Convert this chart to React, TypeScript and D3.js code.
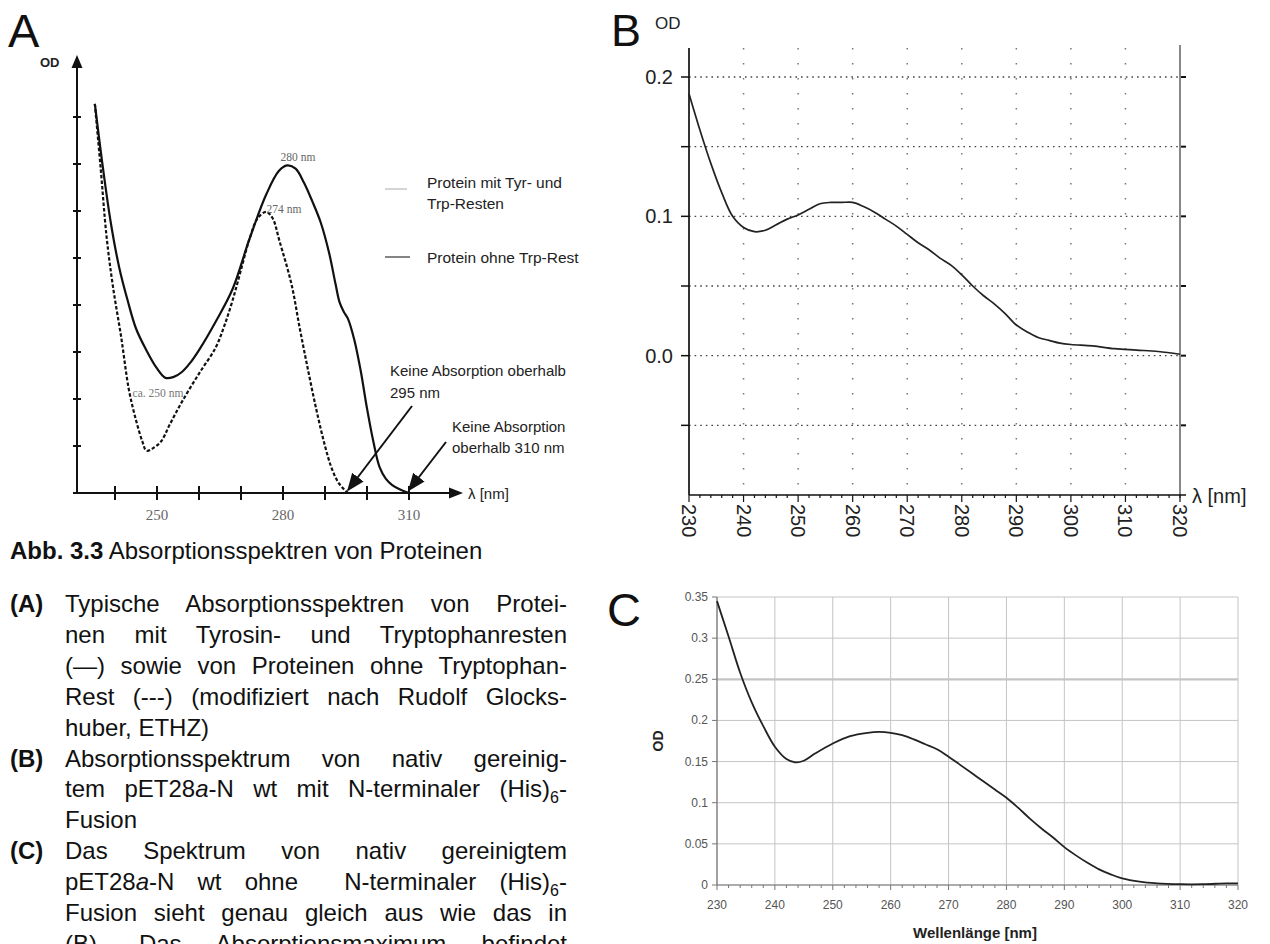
import React, { useEffect, useRef } from "react";
import * as d3 from "d3";

// ---------- Panel A (schematic spectra) ----------
const aSolidNm = [235.2, 237, 239, 241, 243, 245, 247.4, 250, 252, 254, 256, 258, 260, 264, 268, 272, 276, 279, 281, 283, 285, 287, 289, 291, 292.5, 293.5, 294.5, 295.5, 297, 298.5, 300, 301.5, 303, 304.5, 306, 308, 310];
const aSolidOd = [8.28, 7.0, 5.75, 4.8, 4.1, 3.5, 3.05, 2.65, 2.45, 2.47, 2.58, 2.78, 3.04, 3.65, 4.34, 5.4, 6.35, 6.85, 6.97, 6.9, 6.6, 6.2, 5.75, 5.1, 4.45, 4.05, 3.85, 3.7, 3.25, 2.6, 1.8, 1.1, 0.55, 0.3, 0.17, 0.07, 0];
const aDashNm = [235.2, 236.5, 238, 239.5, 241.5, 243.3, 245, 246.5, 247.5, 249, 251, 253, 256, 260, 264, 266, 268, 270, 272, 274, 276, 277.5, 279.2, 282, 284, 286, 288, 290, 291.5, 293, 294.5, 295.5];
const aDashOd = [8.28, 7.0, 5.45, 4.4, 3.3, 2.2, 1.55, 1.1, 0.9, 0.95, 1.1, 1.45, 1.95, 2.54, 3.1, 3.55, 4.1, 4.75, 5.4, 5.85, 5.98, 5.85, 5.35, 4.45, 3.5, 2.6, 1.75, 1.0, 0.55, 0.25, 0.08, 0];
const aXTicks = [240, 250, 260, 270, 280, 290, 300, 310];
const aXLabels = [250, 280, 310];
const aYTicks = [1, 2, 3, 4, 5, 6, 7, 8];

// ---------- Panel B ----------
const bNm = [230, 232, 234, 236, 238, 240, 242, 244, 246, 248, 250, 252, 254, 256, 258, 260, 262, 264, 266, 268, 270, 272, 274, 276, 278, 280, 282, 284, 286, 288, 290, 292, 294, 296, 298, 300, 304, 308, 312, 316, 320];
const bOd = [0.188, 0.162, 0.138, 0.117, 0.1, 0.092, 0.089, 0.09, 0.094, 0.098, 0.101, 0.105, 0.109, 0.11, 0.11, 0.11, 0.107, 0.103, 0.098, 0.093, 0.087, 0.081, 0.076, 0.07, 0.065, 0.058, 0.05, 0.043, 0.037, 0.03, 0.022, 0.017, 0.013, 0.011, 0.009, 0.008, 0.007, 0.005, 0.004, 0.003, 0.001];
const bYGrid = [0.2, 0.15, 0.1, 0.05, 0, -0.05];
const bYLabels = ["0.2", "0.1", "0.0"];
const bXTicks = [230, 240, 250, 260, 270, 280, 290, 300, 310, 320];

// ---------- Panel C ----------
const cNm = [230, 232, 234, 236, 238, 240, 242, 243.5, 245, 247, 250, 253, 256, 258, 260, 262, 264, 266, 268, 270, 272, 274, 276, 278, 280, 282, 284, 286, 288, 290, 292, 294, 296, 298, 300, 303, 306, 310, 314, 318, 320];
const cOd = [0.345, 0.302, 0.258, 0.222, 0.193, 0.168, 0.153, 0.149, 0.151, 0.16, 0.172, 0.181, 0.185, 0.186, 0.185, 0.182, 0.177, 0.171, 0.165, 0.156, 0.146, 0.136, 0.126, 0.116, 0.106, 0.094, 0.081, 0.069, 0.058, 0.046, 0.036, 0.027, 0.019, 0.013, 0.008, 0.004, 0.002, 0.001, 0.001, 0.002, 0.002];
const cYTicks = [0, 0.05, 0.1, 0.15, 0.2, 0.25, 0.3, 0.35];
const cYLabels = ["0", "0.05", "0.1", "0.15", "0.2", "0.25", "0.3", "0.35"];
const cXTicks = [230, 240, 250, 260, 270, 280, 290, 300, 310, 320];

// ---------- Caption text ----------
const captionTitleBold = "Abb. 3.3";
const captionTitle = " Absorptionsspektren von Proteinen";
const captionLines = [
  { lab: "(A)", text: "Typische Absorptionsspektren von Protei-", just: true },
  { lab: "", text: "nen mit Tyrosin- und Tryptophanresten", just: true },
  { lab: "", text: "(\u2014) sowie von Proteinen ohne Tryptophan-", just: true },
  { lab: "", text: "Rest (---) (modifiziert nach Rudolf Glocks-", just: true },
  { lab: "", text: "huber, ETHZ)", just: false },
  { lab: "(B)", text: "Absorptionsspektrum von nativ gereinig-", just: true },
  { lab: "", text: "tem pET28{a}-N wt mit N-terminaler (His)_6-", just: true },
  { lab: "", text: "Fusion", just: false },
  { lab: "(C)", text: "Das Spektrum von nativ gereinigtem", just: true },
  { lab: "", text: "pET28{a}-N wt ohne  N-terminaler (His)_6-", just: true },
  { lab: "", text: "Fusion sieht genau gleich aus wie das in", just: true },
  { lab: "", text: "(B). Das Absorptionsmaximum befindet", just: true },
];

const SANS = "'Liberation Sans', Arial, Helvetica, sans-serif";
const SERIF = "'Liberation Serif', 'Times New Roman', serif";

function renderSegs(text: string) {
  const parts = text.split(/(\{a\}|_6)/).filter((p) => p.length);
  const out: React.ReactNode[] = [];
  let shiftBack = false;
  parts.forEach((p, i) => {
    if (p === "{a}") {
      out.push(<tspan key={i} fontStyle="italic" dy={shiftBack ? -6 : undefined}>a</tspan>);
      shiftBack = false;
    } else if (p === "_6") {
      out.push(<tspan key={i} dy={6} fontSize={16}>6</tspan>);
      shiftBack = true;
    } else {
      out.push(<tspan key={i} dy={shiftBack ? -6 : undefined}>{p}</tspan>);
      shiftBack = false;
    }
  });
  return out;
}

export default function App() {
  const svgRef = useRef<SVGSVGElement>(null);

  useEffect(() => {
    document.body.style.margin = "0";
    const svg = d3.select(svgRef.current);
    svg.selectAll<SVGTextElement, unknown>("text.justify").each(function () {
      const target = +(this.getAttribute("data-w") || 0);
      const txt = this.textContent || "";
      const gaps = (txt.match(/ /g) || []).length;
      this.setAttribute("word-spacing", "0");
      const w = this.getComputedTextLength();
      if (gaps > 0) this.setAttribute("word-spacing", String((target - w) / gaps));
    });
  }, []);

  // Panel A scales
  const xA = d3.scaleLinear().domain([240, 310]).range([115, 409]);
  const yA = d3.scaleLinear().domain([0, 1]).range([493, 446]);
  const lineA = d3
    .line<[number, number]>()
    .x((d) => xA(d[0]))
    .y((d) => yA(d[1]))
    .curve(d3.curveCatmullRom.alpha(0.5));
  const solidA = lineA(aSolidNm.map((n, i) => [n, aSolidOd[i]]) as [number, number][]) || "";
  const dashA = lineA(aDashNm.map((n, i) => [n, aDashOd[i]]) as [number, number][]) || "";
  const axA0 = yA(0);

  // Panel B scales
  const xB = d3.scaleLinear().domain([230, 320]).range([689, 1180]);
  const yB = d3.scaleLinear().domain([-0.1, 0.2]).range([495, 77]);
  const lineB = d3
    .line<[number, number]>()
    .x((d) => xB(d[0]))
    .y((d) => yB(d[1]))
    .curve(d3.curveCatmullRom.alpha(0.5));
  const pathB = lineB(bNm.map((n, i) => [n, bOd[i]]) as [number, number][]) || "";
  const bMinor = d3.range(230, 321, 2);

  // Panel C scales
  const xC = d3.scaleLinear().domain([230, 320]).range([717, 1238]);
  const yC = d3.scaleLinear().domain([0, 0.35]).range([885, 597]);
  const lineC = d3
    .line<[number, number]>()
    .x((d) => xC(d[0]))
    .y((d) => yC(d[1]))
    .curve(d3.curveCatmullRom.alpha(0.5));
  const pathC = lineC(cNm.map((n, i) => [n, cOd[i]]) as [number, number][]) || "";
  const cMinor = d3.range(230, 321, 2);

  const lineY0 = 612;
  const lineStep = 30.9;
  const textX = 65;
  const textR = 567;

  return (
    <div style={{ position: "absolute", left: 0, top: 0 }}>
      <svg ref={svgRef} width={1270} height={944} style={{ display: "block", background: "#fff" }}>
        <defs>
          <marker id="ah" viewBox="0 0 10 10" refX="9" refY="5" markerWidth="9" markerHeight="9" orient="auto">
            <path d="M0,1 L10,5 L0,9 Z" fill="#111" />
          </marker>
        </defs>

        {/* ================= Panel A ================= */}
        <text x={8} y={47} fontFamily={SANS} fontSize={47} fill="#111">A</text>
        <text x={40} y={67} fontFamily={SANS} fontSize={13} fontWeight="bold" fill="#222">OD</text>
        <line x1={77} x2={77} y1={axA0} y2={64} stroke="#111" strokeWidth={2} />
        <path d={`M71.5,${68} L82.5,${68} L77,${55} Z`} fill="#111" />
        {aYTicks.map((t) => (
          <line key={t} x1={73} x2={81} y1={yA(t)} y2={yA(t)} stroke="#111" strokeWidth={2} />
        ))}
        <line x1={73} x2={452} y1={axA0} y2={axA0} stroke="#111" strokeWidth={2} />
        <path d={`M449,${axA0 - 5.5} L463,${axA0} L449,${axA0 + 5.5} Z`} fill="#111" />
        {aXTicks.map((t) => (
          <line key={t} x1={xA(t)} x2={xA(t)} y1={axA0 - 7} y2={axA0 + 7} stroke="#111" strokeWidth={2} />
        ))}
        {aXLabels.map((t) => (
          <text key={t} x={xA(t)} y={axA0 + 27} textAnchor="middle" fontFamily={SERIF} fontSize={15} fill="#666">{t}</text>
        ))}
        <text x={468} y={axA0 + 6} fontFamily={SANS} fontSize={15} fill="#222">λ [nm]</text>
        <path d={solidA} fill="none" stroke="#111" strokeWidth={2.2} />
        <path d={dashA} fill="none" stroke="#111" strokeWidth={2.2} strokeDasharray="3.5,2" />
        <text x={298} y={161} textAnchor="middle" fontFamily={SERIF} fontSize={11.5} fill="#666">280 nm</text>
        <text x={284} y={213} textAnchor="middle" fontFamily={SERIF} fontSize={11.5} fill="#666">274 nm</text>
        <text x={158} y={397} textAnchor="middle" fontFamily={SERIF} fontSize={11.5} fill="#777">ca. 250 nm</text>
        <line x1={385} x2={407} y1={189} y2={189} stroke="#aaa" strokeWidth={1} />
        <text x={427} y={188} fontFamily={SANS} fontSize={15.5} fill="#222">Protein mit Tyr- und</text>
        <text x={427} y={209} fontFamily={SANS} fontSize={15.5} fill="#222">Trp-Resten</text>
        <line x1={385} x2={410} y1={257} y2={257} stroke="#333" strokeWidth={1.2} />
        <text x={427} y={263} fontFamily={SANS} fontSize={15.5} fill="#222">Protein ohne Trp-Rest</text>
        <text x={390} y={376} fontFamily={SANS} fontSize={15} fill="#222">Keine Absorption oberhalb</text>
        <text x={390} y={398} fontFamily={SANS} fontSize={15} fill="#222">295 nm</text>
        <line x1={412} y1={406} x2={xA(295.5)} y2={axA0 - 3} stroke="#111" strokeWidth={2} markerEnd="url(#ah)" />
        <text x={452} y={432} fontFamily={SANS} fontSize={15} fill="#222">Keine Absorption</text>
        <text x={452} y={453} fontFamily={SANS} fontSize={15} fill="#222">oberhalb 310 nm</text>
        <line x1={446} y1={442} x2={xA(310)} y2={axA0 - 3} stroke="#111" strokeWidth={2} markerEnd="url(#ah)" />

        {/* ================= Caption text ================= */}
        <text x={10} y={559} fontFamily={SANS} fontSize={24} fill="#111">
          <tspan fontWeight="bold">{captionTitleBold}</tspan>
          <tspan>{captionTitle}</tspan>
        </text>
        {captionLines.map((l, i) => (
          <g key={i}>
            {l.lab && (
              <text x={10} y={lineY0 + i * lineStep} fontFamily={SANS} fontSize={24} fontWeight="bold" fill="#111">{l.lab}</text>
            )}
            <text
              className={l.just ? "justify" : ""}
              data-w={textR - textX}
              x={textX}
              y={lineY0 + i * lineStep}
              fontFamily={SANS}
              fontSize={24}
              fill="#111"
              style={{ whiteSpace: "pre" }}
            >
              {renderSegs(l.text)}
            </text>
          </g>
        ))}

        {/* ================= Panel B ================= */}
        <text x={611} y={46} fontFamily={SANS} fontSize={45} fill="#111">B</text>
        <text x={655} y={29} fontFamily={SANS} fontSize={17} fill="#222">OD</text>
        {bXTicks.slice(1, -1).map((t) => (
          <line key={t} x1={xB(t)} x2={xB(t)} y1={48} y2={yB(-0.1)} stroke="#777" strokeWidth={1.5} strokeDasharray="1.5,13.5" />
        ))}
        {bYGrid.map((v) => (
          <g key={v}>
            <line x1={xB(230)} x2={xB(320)} y1={yB(v)} y2={yB(v)} stroke="#444" strokeWidth={1.4} strokeDasharray="1.6,4" />
            <line x1={xB(230) - 8} x2={xB(230)} y1={yB(v)} y2={yB(v)} stroke="#111" strokeWidth={1.5} />
            <line x1={xB(320)} x2={xB(320) + 6} y1={yB(v)} y2={yB(v)} stroke="#111" strokeWidth={2} />
          </g>
        ))}
        <line x1={xB(320)} x2={xB(320)} y1={45} y2={yB(-0.1) + 3} stroke="#888" strokeWidth={2} />
        <line x1={xB(230)} x2={xB(230)} y1={48} y2={yB(-0.1)} stroke="#111" strokeWidth={1.7} />
        <line x1={xB(230)} x2={xB(320) + 6} y1={yB(-0.1)} y2={yB(-0.1)} stroke="#111" strokeWidth={1.7} />
        {bMinor.map((t) => (
          <line key={t} x1={xB(t)} x2={xB(t)} y1={yB(-0.1)} y2={yB(-0.1) + (t % 10 === 0 ? 7 : 3)} stroke="#111" strokeWidth={1.2} />
        ))}
        {bYLabels.map((s) => (
          <text key={s} x={673} y={yB(+s) + 7} textAnchor="end" fontFamily={SANS} fontSize={20} fill="#222">{s}</text>
        ))}
        {bXTicks.map((t) => (
          <text
            key={t}
            transform={`translate(${xB(t)},${yB(-0.1) + 9}) rotate(90)`}
            dy="0.35em"
            fontFamily={SANS}
            fontSize={20}
            fill="#222"
          >
            {t}
          </text>
        ))}
        <text x={1192} y={yB(-0.1) + 8} fontFamily={SANS} fontSize={20} fill="#222">λ [nm]</text>
        <path d={pathB} fill="none" stroke="#222" strokeWidth={1.7} />

        {/* ================= Panel C ================= */}
        <text x={607} y={626} fontFamily={SANS} fontSize={47} fill="#111">C</text>
        {cXTicks.map((t) => (
          <line key={t} x1={xC(t)} x2={xC(t)} y1={yC(0.35)} y2={yC(0)} stroke="#c4c4c4" strokeWidth={1} />
        ))}
        {cYTicks.map((v) => (
          <line key={v} x1={xC(230)} x2={xC(320)} y1={yC(v)} y2={yC(v)} stroke="#c4c4c4" strokeWidth={v === 0.25 ? 2.2 : 1} />
        ))}
        <line x1={xC(230)} x2={xC(230)} y1={yC(0.35)} y2={yC(0)} stroke="#777" strokeWidth={1.2} />
        <line x1={xC(230)} x2={xC(320)} y1={yC(0)} y2={yC(0)} stroke="#777" strokeWidth={1.2} />
        {cYTicks.map((v) => (
          <line key={v} x1={xC(230) - 5} x2={xC(230)} y1={yC(v)} y2={yC(v)} stroke="#777" strokeWidth={1} />
        ))}
        {cMinor.map((t) => (
          <line key={t} x1={xC(t)} x2={xC(t)} y1={yC(0)} y2={yC(0) + (t % 10 === 0 ? 5 : 3)} stroke="#777" strokeWidth={1} />
        ))}
        {cYTicks.map((v, i) => (
          <text key={v} x={xC(230) - 9} y={yC(v) + 4} textAnchor="end" fontFamily={SANS} fontSize={12} fill="#555">{cYLabels[i]}</text>
        ))}
        {cXTicks.map((t) => (
          <text key={t} x={xC(t)} y={yC(0) + 24} textAnchor="middle" fontFamily={SANS} fontSize={12} fill="#555">{t}</text>
        ))}
        <text x={975} y={938} textAnchor="middle" fontFamily={SANS} fontSize={15} fontWeight="bold" fill="#222">Wellenlänge [nm]</text>
        <text transform={`translate(663,${yC(0.175)}) rotate(-90)`} textAnchor="middle" fontFamily={SANS} fontSize={14} fontWeight="bold" fill="#222">OD</text>
        <path d={pathC} fill="none" stroke="#222" strokeWidth={1.8} />
      </svg>
    </div>
  );
}
